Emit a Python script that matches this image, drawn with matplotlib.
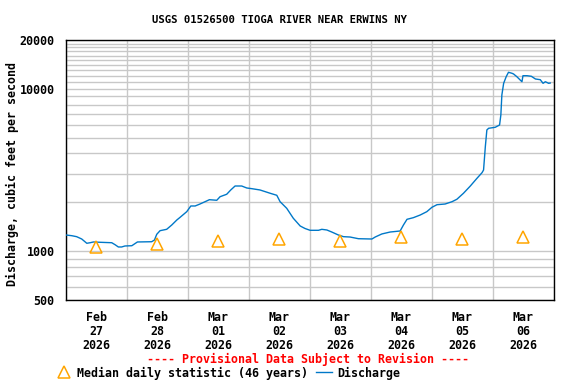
import numpy as np
import pandas as pd
import matplotlib
matplotlib.use('Agg')
import matplotlib.pyplot as plt
import matplotlib.dates as mdates
from matplotlib.ticker import FixedLocator, NullFormatter
from matplotlib.lines import Line2D

# discharge readings, hours after 2026-02-27 00:00 and cfs
hours = [0, 2.4, 4.3, 6.3, 8.3, 9.6, 10.9, 13.5, 18.1, 19.4, 20.7, 22.0, 23.3,
         26.0, 28.2, 33.8, 34.9, 35.8, 37.1, 39.7, 41.7, 43.7, 45.0, 47.6, 49.2,
         50.9, 52.8, 54.8, 56.5, 59.4, 60.7, 63.3, 64.9, 66.6, 69.2, 71.2, 73.2,
         76.4, 80.4, 83.0, 84.3, 86.9, 89.5, 92.2, 94.1, 96.1, 99.4, 100.7, 102.7,
         104.6, 107.2, 109.2, 111.8, 115.1, 120.4, 121.7, 124.3, 127.6, 131.5,
         132.8, 134.2, 136.7, 139.4, 142.0, 144.0, 146.0, 149.2, 151.9, 153.8,
         156.4, 159.1, 161.7, 163.7, 164.3, 165.0, 165.6, 166.3, 168.9, 170.6,
         171.1, 171.5, 172.2, 173.2, 174.1, 175.5, 176.1, 177.4, 178.7, 179.4,
         179.8, 181.4, 183.1, 184.7, 186.6, 187.7, 188.6, 189.9, 190.5]
flow = [1258, 1245, 1228, 1188, 1118, 1127, 1139, 1134, 1127, 1096, 1061, 1061, 1076,
        1080, 1139, 1143, 1171, 1270, 1337, 1363, 1449, 1556, 1617, 1751, 1898,
        1898, 1952, 2017, 2075, 2058, 2165, 2241, 2382, 2520, 2520, 2450, 2426,
        2382, 2273, 2209, 2017, 1837, 1594, 1429, 1379, 1344, 1344, 1363, 1350,
        1312, 1258, 1228, 1222, 1193, 1188, 1222, 1276, 1312, 1331,
        1449, 1571, 1608, 1670, 1751, 1863, 1933, 1952, 2017, 2087,
        2273, 2520, 2810, 3044, 3162, 4404, 5580, 5716, 5797, 5990,
        6900, 9164, 10818, 11881, 12648, 12470, 12348, 11881, 11340, 11066,
        12052, 12052, 11950, 11502, 11388, 10818, 11066, 10818, 10864]

# median daily statistic (46 years), one per day at noon
median_days = ['2026-02-27', '2026-02-28', '2026-03-01', '2026-03-02',
               '2026-03-03', '2026-03-04', '2026-03-05', '2026-03-06']
median_flow = [1060, 1100, 1160, 1190, 1150, 1215, 1190, 1215]

start = pd.Timestamp('2026-02-27')
t = start + pd.to_timedelta(hours, unit='h')
tm = pd.to_datetime(median_days) + pd.Timedelta(hours=12)

plt.rcParams['font.family'] = 'DejaVu Sans Mono'
plt.rcParams['font.weight'] = 'bold'
fs = 8.4

fig = plt.figure(figsize=(5.76, 3.84), dpi=100)
ax = fig.add_axes([65.7/576, 1-300/384, (554-65.7)/576, 260/384])

ax.plot(t, flow, color='#0078c8', lw=1.0, zorder=3)
ax.plot(tm, median_flow, ls='none', marker='^', ms=8, mfc='none',
        mec='#ffa500', mew=1.1, zorder=4)

ax.set_yscale('log')
ax.set_ylim(500, 20000)
ax.yaxis.set_major_locator(FixedLocator([500, 1000, 10000, 20000]))
ax.yaxis.set_major_formatter(matplotlib.ticker.FuncFormatter(lambda v, p: '%d' % v))
minors = list(range(600, 1000, 100)) + list(range(2000, 10000, 1000)) + list(range(11000, 20000, 1000))
ax.yaxis.set_minor_locator(FixedLocator(minors))
ax.yaxis.set_minor_formatter(NullFormatter())

ax.set_xlim(start, start + pd.Timedelta(days=8))
ax.xaxis.set_major_locator(mdates.DayLocator())
ax.xaxis.set_major_formatter(NullFormatter())
ax.xaxis.set_minor_locator(mdates.HourLocator(byhour=[12]))
ax.xaxis.set_minor_formatter(mdates.DateFormatter('%b\n%d\n%Y'))

ax.grid(True, axis='y', which='both', color='#c8c8c8', lw=1)
ax.grid(True, axis='x', which='major', color='#c8c8c8', lw=1)
ax.tick_params(which='both', length=0)
ax.tick_params(axis='y', labelsize=fs, pad=8)
ax.tick_params(axis='x', which='minor', labelsize=fs, pad=8)
for lab in ax.get_xticklabels(minor=True):
    lab.set_linespacing(1.1)
for s in ax.spines.values():
    s.set_color('black')
    s.set_linewidth(1)

fig.text(280/576, 1-20/384, 'USGS 01526500 TIOGA RIVER NEAR ERWINS NY',
         ha='center', va='center', fontsize=7.7)
fig.text(12/576, 1-174/384, 'Discharge, cubic feet per second', rotation=90,
         ha='center', va='center', fontsize=fs)
fig.text(308/576, 1-359/384, '---- Provisional Data Subject to Revision ----',
         ha='center', va='center', fontsize=fs, color='red')

handles = [Line2D([], [], ls='none', marker='^', ms=8, mfc='none', mec='#ffa500', mew=1.1),
           Line2D([], [], color='#0078c8', lw=1.0)]
fig.legend(handles, ['Median daily statistic (46 years)', 'Discharge'],
           loc='center left', bbox_to_anchor=(56/576, 1-373/384), ncol=2,
           frameon=False, fontsize=fs, handlelength=1.4, handletextpad=0.4,
           columnspacing=0.7, borderpad=0, borderaxespad=0)

fig.savefig('out.png', dpi=100)
